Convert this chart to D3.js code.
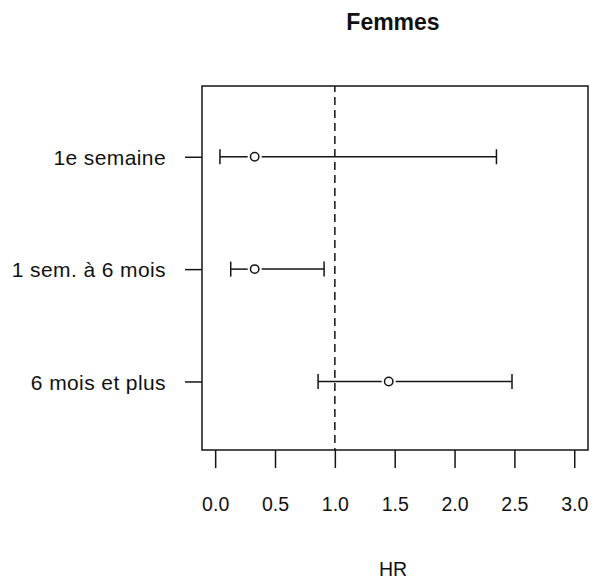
<!DOCTYPE html>
<html>
<head>
<meta charset="utf-8">
<script src="https://cdn.jsdelivr.net/npm/d3@7"></script>
<style>
  html, body { margin: 0; padding: 0; background: #fff; }
  svg text { font-family: Arial, "Liberation Sans", sans-serif; fill: #111; }
</style>
</head>
<body>
<svg id="chart" width="592" height="583"></svg>
<script>
const categories = ["1e semaine", "1 sem. à 6 mois", "6 mois et plus"];
const hr = [0.33, 0.33, 1.45];
const lower = [0.04, 0.13, 0.86];
const upper = [2.35, 0.91, 2.48];
const xTicks = [0, 0.5, 1, 1.5, 2, 2.5, 3];
const refLine = 1;
const title = "Femmes";
const xLabel = "HR";

const svg = d3.select("#chart");
const box = { left: 202, right: 588, top: 86, bottom: 450 };
const ink = "#141414";
const lw = 1.5;

const x = d3.scaleLinear().domain([-0.11, 3.115]).range([box.left, box.right]);
const y = d3.scaleLinear().domain([-0.63, 2.61]).range([box.top, box.bottom]);

// title
svg.append("text")
  .attr("x", (box.left + box.right) / 2 - 2)
  .attr("y", 30)
  .attr("text-anchor", "middle")
  .attr("font-weight", "bold")
  .attr("font-size", 23)
  .text(title);

// x axis
const xAxis = d3.axisBottom(x).tickValues(xTicks).tickFormat(d3.format(".1f"))
  .tickSize(18).tickSizeOuter(0);
const gx = svg.append("g").attr("transform", `translate(0,${box.bottom})`).call(xAxis);
gx.select(".domain").remove();
gx.selectAll(".tick line").attr("stroke", ink).attr("stroke-width", lw);
gx.selectAll(".tick text").attr("y", 61).attr("dy", null)
  .attr("font-size", 19.5).attr("font-family", "Arial, 'Liberation Sans', sans-serif").attr("fill", "#111");

// y axis
const yAxis = d3.axisLeft(y).tickValues(categories.map((c, i) => i))
  .tickFormat(i => categories[i]).tickSize(17).tickSizeOuter(0);
const gy = svg.append("g").attr("transform", `translate(${box.left},0)`).call(yAxis);
gy.select(".domain").remove();
gy.selectAll(".tick line").attr("stroke", ink).attr("stroke-width", lw);
gy.selectAll(".tick text").attr("x", -36).attr("dy", "0.36em")
  .attr("font-size", 21).attr("letter-spacing", 0.4)
  .attr("font-family", "Arial, 'Liberation Sans', sans-serif").attr("fill", "#111");

// x label
svg.append("text")
  .attr("x", (box.left + box.right) / 2 - 2)
  .attr("y", 576)
  .attr("text-anchor", "middle")
  .attr("font-size", 19.5)
  .text(xLabel);

// reference dashed line
svg.append("line")
  .attr("x1", x(refLine)).attr("x2", x(refLine))
  .attr("y1", box.top).attr("y2", box.bottom)
  .attr("stroke", ink).attr("stroke-width", lw)
  .attr("stroke-dasharray", "8,5").attr("stroke-dashoffset", 2);

// error bars
const capH = 7.5, gap = 7;
const rows = svg.append("g").selectAll("g").data(categories).join("g");
rows.append("line")
  .attr("x1", (d, i) => x(lower[i])).attr("x2", (d, i) => x(hr[i]) - gap)
  .attr("y1", (d, i) => y(i)).attr("y2", (d, i) => y(i))
  .attr("stroke", ink).attr("stroke-width", lw);
rows.append("line")
  .attr("x1", (d, i) => x(hr[i]) + gap).attr("x2", (d, i) => x(upper[i]))
  .attr("y1", (d, i) => y(i)).attr("y2", (d, i) => y(i))
  .attr("stroke", ink).attr("stroke-width", lw);
rows.append("line")
  .attr("x1", (d, i) => x(lower[i])).attr("x2", (d, i) => x(lower[i]))
  .attr("y1", (d, i) => y(i) - capH).attr("y2", (d, i) => y(i) + capH)
  .attr("stroke", ink).attr("stroke-width", lw);
rows.append("line")
  .attr("x1", (d, i) => x(upper[i])).attr("x2", (d, i) => x(upper[i]))
  .attr("y1", (d, i) => y(i) - capH).attr("y2", (d, i) => y(i) + capH)
  .attr("stroke", ink).attr("stroke-width", lw);
rows.append("circle")
  .attr("cx", (d, i) => x(hr[i])).attr("cy", (d, i) => y(i)).attr("r", 4.2)
  .attr("fill", "#fff").attr("stroke", ink).attr("stroke-width", lw);

// plot box
svg.append("rect")
  .attr("x", box.left).attr("y", box.top)
  .attr("width", box.right - box.left).attr("height", box.bottom - box.top)
  .attr("fill", "none").attr("stroke", ink).attr("stroke-width", lw);
</script>
</body>
</html>
